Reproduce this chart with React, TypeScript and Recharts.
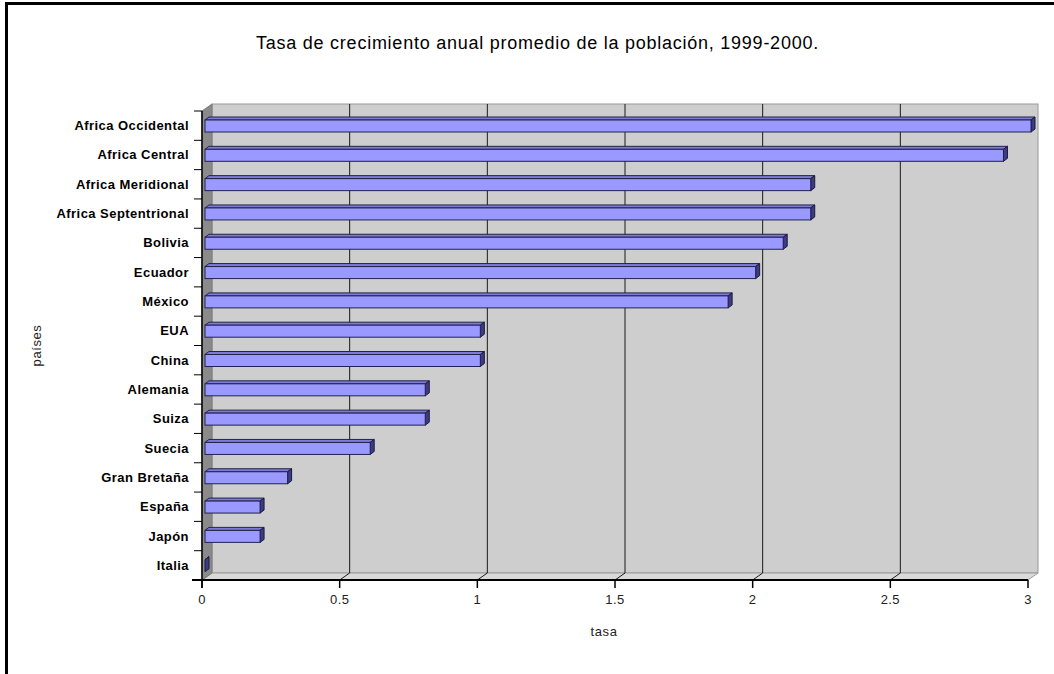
import React from 'react';
import { BarChart, Bar, XAxis, YAxis, CartesianGrid } from 'recharts';

const categories = [
  'Africa Occidental',
  'Africa Central',
  'Africa Meridional',
  'Africa Septentrional',
  'Bolivia',
  'Ecuador',
  'México',
  'EUA',
  'China',
  'Alemania',
  'Suiza',
  'Suecia',
  'Gran Bretaña',
  'España',
  'Japón',
  'Italia',
];
const tasa = [3.0, 2.9, 2.2, 2.2, 2.1, 2.0, 1.9, 1.0, 1.0, 0.8, 0.8, 0.6, 0.3, 0.2, 0.2, 0.0];
const xTicks = [0, 0.5, 1, 1.5, 2, 2.5, 3];
const title = 'Tasa de crecimiento anual promedio de la población, 1999-2000.';
const xTitle = 'tasa';
const yTitle = 'países';

const data = categories.map((c, i) => ({ pais: c, tasa: tasa[i] }));

const DX = 10; // wall depth x
const DY = 7; // wall depth y
const FONT = 'Arial, "Liberation Sans", sans-serif';

const Bar3D = (props: any) => {
  const { x, y, width, height } = props;
  const off = 3;
  const d = 4;
  const dd = 3;
  const x0 = x + off;
  const w = Math.max(0, width);
  const x1 = x0 + w;
  const y0 = y;
  const y1 = y + height;
  return (
    <g>
      <polygon
        points={`${x0},${y0} ${x0 + d},${y0 - dd} ${x1 + d},${y0 - dd} ${x1},${y0}`}
        fill="#7c7cd8"
        stroke="#22224a"
        strokeWidth={1}
      />
      <polygon
        points={`${x1},${y0} ${x1 + d},${y0 - dd} ${x1 + d},${y1 - dd} ${x1},${y1}`}
        fill="#3c3c84"
        stroke="#1a1a3a"
        strokeWidth={1}
      />
      {w > 0 && (
        <rect x={x0} y={y0} width={w} height={height} fill="#9999ff" stroke="#22224a" strokeWidth={1} />
      )}
    </g>
  );
};

const verticalGrid = (props: any) => {
  const { x1, index, x, y, width, height } = props;
  const bottom = y + height;
  const band = height / categories.length;
  if (index === 0) {
    const ticks = [];
    for (let i = 0; i <= categories.length; i++) {
      const ty = y + i * band;
      ticks.push(<line key={i} x1={x - 8} x2={x} y1={ty} y2={ty} stroke="#000" strokeWidth={1} />);
    }
    return (
      <g key="walls">
        <rect x={x + DX} y={y - DY} width={width} height={height} fill="#cecece" stroke="#9a9a9a" strokeWidth={1} />
        <polygon
          points={`${x},${bottom} ${x + DX},${bottom - DY} ${x + width + DX},${bottom - DY} ${x + width},${bottom}`}
          fill="#d9d9d9"
          stroke="#9a9a9a"
          strokeWidth={1}
        />
        <polygon
          points={`${x},${y} ${x + DX},${y - DY} ${x + DX},${bottom - DY} ${x},${bottom}`}
          fill="#8a8a8a"
          stroke="#7a7a7a"
          strokeWidth={1}
        />
        <line x1={x} x2={x} y1={y} y2={bottom + 8} stroke="#000" strokeWidth={1.5} />
        <line x1={x - 10} x2={x} y1={bottom} y2={bottom} stroke="#000" strokeWidth={2} />
        {ticks}
      </g>
    );
  }
  if (Math.abs(x1 - (x + width)) < 1) return <g key={`v-${index}`} />;
  return (
    <g key={`v-${index}`}>
      <line x1={x1 + DX} x2={x1 + DX} y1={y - DY} y2={bottom - DY} stroke="#1a1a1a" strokeWidth={1} />
      <line x1={x1 + DX} x2={x1} y1={bottom - DY} y2={bottom} stroke="#1a1a1a" strokeWidth={1} />
    </g>
  );
};

const YTick = (props: any) => {
  const { x, y, payload } = props;
  return (
    <text x={x} y={y} dy={4.5} textAnchor="end" fontFamily={FONT} fontSize={13} fontWeight="bold" fill="#000" letterSpacing={0.45}>
      {payload.value}
    </text>
  );
};

const XTick = (props: any) => {
  const { x, y, payload } = props;
  return (
    <text x={x} y={y} dy={12} textAnchor="middle" fontFamily={FONT} fontSize={13} fill="#222" letterSpacing={0.4}>
      {String(payload.value)}
    </text>
  );
};

const YTitle = (props: any) => {
  const vb = props.viewBox || {};
  const cx = (vb.x || 0) + 36;
  const cy = (vb.y || 0) + (vb.height || 0) / 2;
  return (
    <text
      x={cx}
      y={cy}
      transform={`rotate(-90 ${cx} ${cy})`}
      textAnchor="middle"
      dominantBaseline="central"
      fontFamily={FONT}
      fontSize={13}
      letterSpacing={0.6}
      fill="#222"
    >
      {yTitle}
    </text>
  );
};

export default function App() {
  return (
    <div style={{ position: 'absolute', left: 0, top: 0, width: 1054, height: 674, background: '#fff', overflow: 'hidden' }}>
      <div
        style={{
          position: 'absolute',
          left: 5,
          top: 2,
          width: 1060,
          height: 690,
          borderTop: '3px solid #000',
          borderLeft: '3px solid #000',
          boxSizing: 'border-box',
        }}
      />
      <div
        style={{
          position: 'absolute',
          left: 0,
          width: 1075,
          top: 33,
          textAlign: 'center',
          fontFamily: FONT,
          fontSize: 18,
          letterSpacing: 0.75,
          color: '#000',
          whiteSpace: 'nowrap',
        }}
      >
        {title}
      </div>
      <div style={{ position: 'absolute', left: 0, top: 0 }}>
        <BarChart
          width={1054}
          height={674}
          data={data}
          layout="vertical"
          margin={{ top: 111, right: 26, bottom: 0, left: 0 }}
          barSize={12}
        >
          <CartesianGrid horizontal={false} vertical={verticalGrid} stroke="#1a1a1a" fill="none" />
          <XAxis
            type="number"
            dataKey="tasa"
            domain={[0, 3]}
            ticks={xTicks}
            interval={0}
            height={94}
            axisLine={{ stroke: '#000', strokeWidth: 2 }}
            tickLine={{ stroke: '#000', strokeWidth: 1.5 }}
            tickSize={8}
            tickMargin={4}
            tick={<XTick />}
            label={{
              value: xTitle,
              position: 'insideTop',
              offset: 47,
              dx: -11,
              fill: '#222',
              fontSize: 13,
              fontFamily: FONT,
              letterSpacing: 0.6,
            }}
          />
          <YAxis
            type="category"
            dataKey="pais"
            width={202}
            axisLine={false}
            tickLine={false}
            tickSize={0}
            tickMargin={13}
            interval={0}
            tick={<YTick />}
            label={<YTitle />}
          />
          <Bar dataKey="tasa" isAnimationActive={false} shape={<Bar3D />} />
        </BarChart>
      </div>
    </div>
  );
}
